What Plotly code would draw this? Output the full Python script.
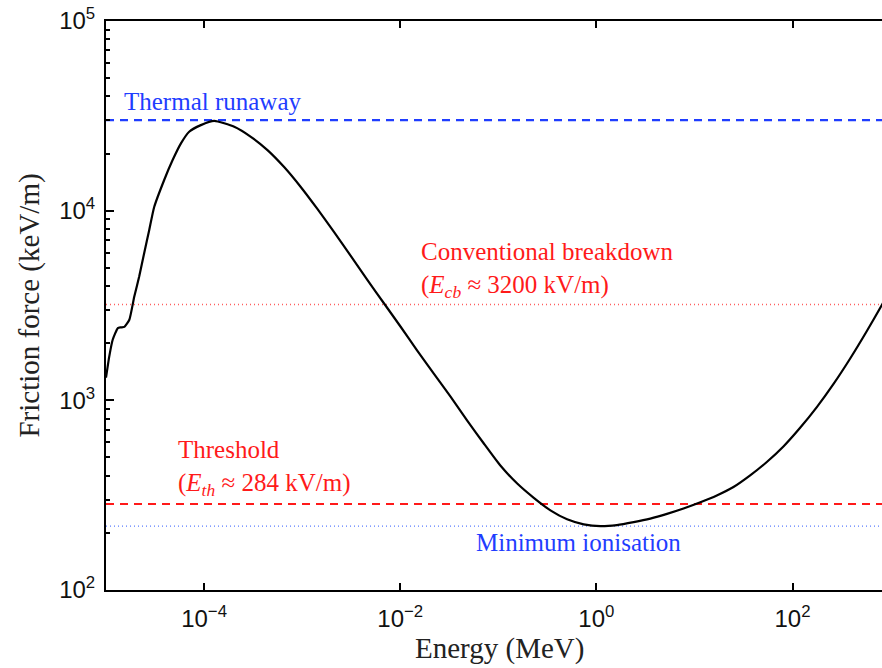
import math
import plotly.graph_objects as go

# ---------------------------
# Data
# ---------------------------
energy_mev = [1.0e-5, 1.08e-5, 1.17e-5, 1.32e-5, 1.42e-5, 1.54e-5, 1.73e-5, 1.94e-5, 2.18e-5,
              2.45e-5, 2.76e-5, 3.10e-5, 3.92e-5, 4.78e-5, 5.81e-5, 7.05e-5, 9.27e-5, 1.27e-4,
              2.03e-4, 3.00e-4, 4.43e-4, 6.55e-4, 9.68e-4, 1.43e-3, 2.11e-3, 3.13e-3, 4.62e-3,
              6.82e-3, 1.01e-2, 1.49e-2, 2.20e-2, 3.26e-2, 4.82e-2, 7.12e-2, 0.105, 0.156,
              0.230, 0.340, 0.503, 0.743, 1.10, 1.62, 2.40, 3.55, 5.25, 7.74, 11.5, 16.9,
              25.0, 37.0, 54.7, 80.8, 119, 177, 261, 386, 571, 817, 1000]
friction_kev_m = [1316, 1706, 2086, 2405, 2425, 2440, 2660, 3514, 4498,
                  5970, 7912, 10450, 14510, 18490, 22630, 26060, 28250, 29760,
                  27680, 24500, 20860, 16980, 13330, 10210, 7730, 5775, 4317,
                  3250, 2443, 1827, 1382, 1045, 782, 592, 453, 364,
                  306, 263, 236, 222, 217, 220, 228, 238, 252, 269, 290, 315,
                  349, 402, 473, 571, 714, 921, 1217, 1657, 2313, 3190, 3830]

thermal_runaway = 30000
conventional_breakdown = 3200
threshold = 284
minimum_ionisation = 217

x_ticks = [1e-4, 1e-2, 1e0, 1e2]
x_ticktext = ["10<sup>\u22124</sup>", "10<sup>\u22122</sup>", "10<sup>0</sup>", "10<sup>2</sup>"]
y_ticks = [1e2, 1e3, 1e4, 1e5]
y_ticktext = ["10<sup>2</sup>", "10<sup>3</sup>", "10<sup>4</sup>", "10<sup>5</sup>"]
y_minor = [m * 10 ** d for d in range(2, 5) for m in range(2, 10)]

x_span = [1e-5, 1e3]

BLUE = "#1f3dff"
RED = "#ff1a1a"
SERIF = "Liberation Serif, Times New Roman, serif"
SANS = "Liberation Sans, Arial, sans-serif"

# pixel helpers for label placement (plot spans x 106..882, y 21..590)
def xl(px):
    return (px - 596) / 98.2

def yl(py):
    return (970.7 - py) / 190

fig = go.Figure()

# reference levels
fig.add_trace(go.Scatter(x=x_span, y=[minimum_ionisation] * 2, mode="lines",
                         line=dict(color="rgba(60,100,255,0.85)", width=1.3, dash="1px,3px"), showlegend=False))
fig.add_trace(go.Scatter(x=x_span, y=[conventional_breakdown] * 2, mode="lines",
                         line=dict(color="rgba(255,40,40,0.75)", width=1.3, dash="1px,3px"), showlegend=False))
fig.add_trace(go.Scatter(x=x_span, y=[threshold] * 2, mode="lines",
                         line=dict(color=RED, width=2.2, dash="8px,6px"), showlegend=False))
fig.add_trace(go.Scatter(x=x_span, y=[thermal_runaway] * 2, mode="lines",
                         line=dict(color=BLUE, width=2.2, dash="8px,6px"), showlegend=False))

# friction curve
fig.add_trace(go.Scatter(x=energy_mev, y=friction_kev_m, mode="lines",
                         line=dict(color="black", width=2.2, shape="spline", smoothing=0.5),
                         showlegend=False))

annotations = [
    dict(x=xl(121), y=yl(101), xref="x", yref="y", text="Thermal runaway", showarrow=False,
         xanchor="left", yanchor="middle", font=dict(family=SERIF, size=25, color=BLUE)),
    dict(x=xl(418), y=yl(270), xref="x", yref="y",
         text="Conventional breakdown<br>(<i>E</i><sub><i>cb</i></sub> \u2248 3200 kV/m)",
         showarrow=False, xanchor="left", yanchor="middle", align="left",
         font=dict(family=SERIF, size=25, color=RED)),
    dict(x=xl(175), y=yl(468), xref="x", yref="y",
         text="Threshold<br>(<i>E</i><sub><i>th</i></sub> \u2248 284 kV/m)",
         showarrow=False, xanchor="left", yanchor="middle", align="left",
         font=dict(family=SERIF, size=25, color=RED)),
    dict(x=xl(473), y=yl(543), xref="x", yref="y",
         text="Minimum ionisation", showarrow=False, xanchor="left", yanchor="middle",
         font=dict(family=SERIF, size=25, color=BLUE)),
    # axis titles
    dict(x=(499 - 106) / 776, y=-0.102, xref="paper", yref="paper", text="Energy (MeV)",
         showarrow=False, xanchor="center", yanchor="middle",
         font=dict(family=SERIF, size=29, color="#222")),
    dict(x=-0.0992, y=0.5, xref="paper", yref="paper", text="Friction force (keV/m)",
         showarrow=False, xanchor="center", yanchor="middle", textangle=-90,
         font=dict(family=SERIF, size=29, color="#222")),
]

fig.update_layout(
    width=882, height=668,
    margin=dict(l=106, r=0, t=21, b=78),
    paper_bgcolor="white", plot_bgcolor="white",
    annotations=annotations,
    xaxis=dict(type="log", range=[-5, xl(882)],
               showgrid=False, zeroline=False, showline=True, linecolor="black", linewidth=2,
               mirror="ticks", ticks="inside", ticklen=7, tickwidth=2, tickcolor="black",
               tickmode="array", tickvals=x_ticks, ticktext=x_ticktext,
               ticklabelstandoff=6,
               tickfont=dict(family=SANS, size=24, color="#111")),
    yaxis=dict(type="log", range=[2, 5],
               showgrid=False, zeroline=False, showline=True, linecolor="black", linewidth=2,
               ticks="inside", ticklen=8, tickwidth=2, tickcolor="black",
               tickmode="array", tickvals=y_ticks, ticktext=y_ticktext,
               ticklabelstandoff=4,
               tickfont=dict(family=SANS, size=24, color="#111"),
               minor=dict(ticks="inside", ticklen=4, tickwidth=2, tickcolor="black",
                          tickmode="array", tickvals=y_minor, showgrid=False)),
)

fig.write_html("out.html", config={"displayModeBar": False},
               post_script="document.body.style.margin='0';document.body.style.overflow='hidden';")
